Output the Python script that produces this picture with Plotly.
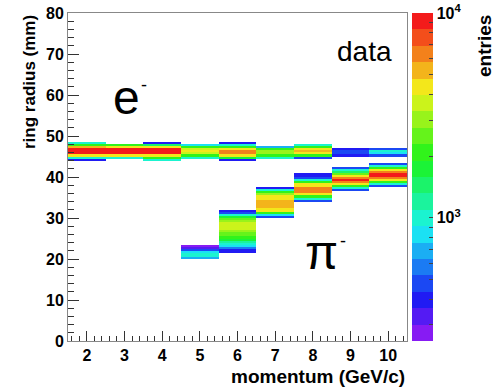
import math
import colorsys
import plotly.graph_objects as go

# ---------------- data ----------------
momentum = [2, 3, 4, 5, 6, 7, 8, 9, 10]          # GeV/c, bin centres
radius_bin = 0.5                                   # mm, bin width
n_radius_bins = 160                                # 0 .. 80 mm

# electron band: lowest populated radius bin edge (mm) and entries per bin going up
e_start = [44.0, 44.5, 44.0, 44.5, 44.0, 44.5, 44.5, 45.0, 45.0]
e_counts = [
    [420, 1000, 4400, 9000, 9600, 9000, 5500, 2200, 1000],
    [1000, 4200, 9000, 9500, 9000, 4500, 2000],
    [950, 2000, 4500, 9000, 9500, 8500, 4500, 1500, 430],
    [1000, 2200, 3500, 4200, 3500, 2000, 900],
    [420, 1900, 4500, 6500, 6500, 4500, 2200, 1000, 420],
    [1000, 2000, 3000, 3200, 2200, 700],
    [450, 2000, 4500, 5500, 4500, 2200, 1000],
    [400, 500, 500, 420],
    [450, 850, 1000, 500],
]

# pion band
pi_start = [None, None, None, 20.0, 21.5, 30.0, 34.0, 36.5, 37.5]
pi_counts = [
    [],
    [],
    [],
    [650, 950, 1000, 800, 450, 350, 270],
    [400, 420, 550, 900, 1050, 1300, 1900, 2200, 2500, 2700, 3000, 3400,
     3600, 3600, 3400, 3000, 2300, 1700, 1000, 450, 400],
    [450, 900, 2000, 4000, 4500, 4800, 5000, 5000, 4800, 4500, 4200, 3000,
     2000, 1000, 400],
    [450, 1000, 2200, 4500, 6000, 6500, 6000, 4500, 4200, 2200, 1000, 450,
     420, 380],
    [450, 1000, 2200, 4500, 6500, 8500, 6500, 4500, 2500, 1500, 950, 450],
    [450, 1000, 2200, 4500, 6500, 8500, 9000, 6500, 4500, 2200, 1000, 450],
]

z_min_entries = 250
z_max_entries = 10000
cbar_major = [1000, 10000]
cbar_major_text = ["10<sup>3</sup>", "10<sup>4</sup>"]
cbar_minor = [300, 400, 500, 600, 700, 800, 900,
              2000, 3000, 4000, 5000, 6000, 7000, 8000, 9000]

x_ticks = [2, 3, 4, 5, 6, 7, 8, 9, 10]

# ---------------- build histogram matrix ----------------
z = [[None] * len(momentum) for _ in range(n_radius_bins)]


def fill(col, start, counts):
    if start is None:
        return
    r0 = int(round(start / radius_bin))
    for k, c in enumerate(counts):
        z[r0 + k][col] = math.log10(c)


for i in range(len(momentum)):
    fill(i, e_start[i], e_counts[i])
    fill(i, pi_start[i], pi_counts[i])

y_centres = [radius_bin * (r + 0.5) for r in range(n_radius_bins)]

# ---------------- ROOT-like 20-level rainbow palette ----------------
n_levels = 20
pal = []
for i in range(n_levels):
    h = 270.0 * (1 - i / (n_levels - 1))
    r, g, b = colorsys.hls_to_rgb(h / 360.0, 0.53, 0.9)
    pal.append("#%02x%02x%02x" % (int(r * 255), int(g * 255), int(b * 255)))
cscale = []
for i, c in enumerate(pal):
    cscale.append([i / n_levels, c])
    cscale.append([(i + 1) / n_levels, c])

zmin = math.log10(z_min_entries)
zmax = math.log10(z_max_entries)

tickvals = [math.log10(v) for v in cbar_minor] + [math.log10(v) for v in cbar_major]
ticktext = [""] * len(cbar_minor) + cbar_major_text

FONT = "Liberation Sans, Arial, Helvetica, sans-serif"
PW = 339.0  # plot width px
PH = 328.0  # plot height px

fig = go.Figure()
fig.add_trace(go.Heatmap(
    x=momentum, y=y_centres, z=z,
    colorscale=cscale, zmin=zmin, zmax=zmax,
    hoverinfo="skip",
    colorbar=dict(
        x=412 / 496, xref="container", xanchor="left", xpad=0,
        y=0, yanchor="bottom", ypad=0, len=1, lenmode="fraction",
        thickness=21, outlinewidth=0,
        tickmode="array", tickvals=tickvals, ticktext=ticktext,
        ticks="inside", ticklen=4, tickcolor="#444",
        tickfont=dict(family=FONT, size=16, color="black", weight="bold"),
    ),
))

fig.update_layout(
    width=496, height=387,
    margin=dict(l=68, r=89, t=13, b=46, autoexpand=False),
    paper_bgcolor="white", plot_bgcolor="white",
    showlegend=False,
    font=dict(family=FONT, color="black"),
)

fig.update_xaxes(
    range=[1.5, 10.5], tickmode="array", tickvals=x_ticks,
    ticks="inside", ticklen=10, tickcolor="#333", tickwidth=1,
    minor=dict(dtick=0.2, tick0=1.6, ticks="inside", ticklen=5, tickcolor="#333"),
    showline=True, linecolor="#888", linewidth=1, mirror=True,
    showgrid=False, zeroline=False, automargin=False,
    tickfont=dict(family=FONT, size=16, color="black", weight="bold"),
)
fig.update_yaxes(
    range=[0, 80], dtick=10, tick0=0,
    ticks="inside", ticklen=11, tickcolor="#333", tickwidth=1,
    minor=dict(dtick=2, ticks="inside", ticklen=6, tickcolor="#333"),
    showline=True, linecolor="#888", linewidth=1, mirror=True,
    showgrid=False, zeroline=False, automargin=False,
    tickfont=dict(family=FONT, size=16, color="black", weight="bold"),
)

ann = []
ann.append(dict(text="ring radius (mm)", textangle=-90, xref="paper", yref="paper",
                x=(29 - 68) / PW, y=1.0, xanchor="center", yanchor="top",
                showarrow=False, font=dict(size=17, weight="bold")))
ann.append(dict(text="momentum (GeV/c)", xref="paper", yref="paper",
                x=1.0, y=(341 - 376) / PH, xanchor="right", yanchor="middle",
                showarrow=False, font=dict(size=19, weight="bold")))
ann.append(dict(text="entries", textangle=-90, xref="paper", yref="paper",
                x=(484 - 68) / PW, y=1.0, xanchor="center", yanchor="top",
                showarrow=False, font=dict(size=19, weight="bold")))
ann.append(dict(text="data", xref="x", yref="y", x=9.38, y=70.5,
                xanchor="center", yanchor="middle", showarrow=False,
                font=dict(size=28)))
ann.append(dict(text="e", xref="x", yref="y", x=3.05, y=59.5,
                xanchor="center", yanchor="middle", showarrow=False,
                font=dict(size=48)))
ann.append(dict(text="-", xref="x", yref="y", x=3.52, y=62.4,
                xanchor="center", yanchor="middle", showarrow=False,
                font=dict(size=18)))
ann.append(dict(text="π", xref="x", yref="y", x=8.24, y=21.5,
                xanchor="center", yanchor="middle", showarrow=False,
                font=dict(size=48)))
ann.append(dict(text="-", xref="x", yref="y", x=8.80, y=24.4,
                xanchor="center", yanchor="middle", showarrow=False,
                font=dict(size=18)))
fig.update_layout(annotations=ann)

fig.write_html("out.html", config={"displayModeBar": False},
               post_script="document.body.style.margin='0';")
